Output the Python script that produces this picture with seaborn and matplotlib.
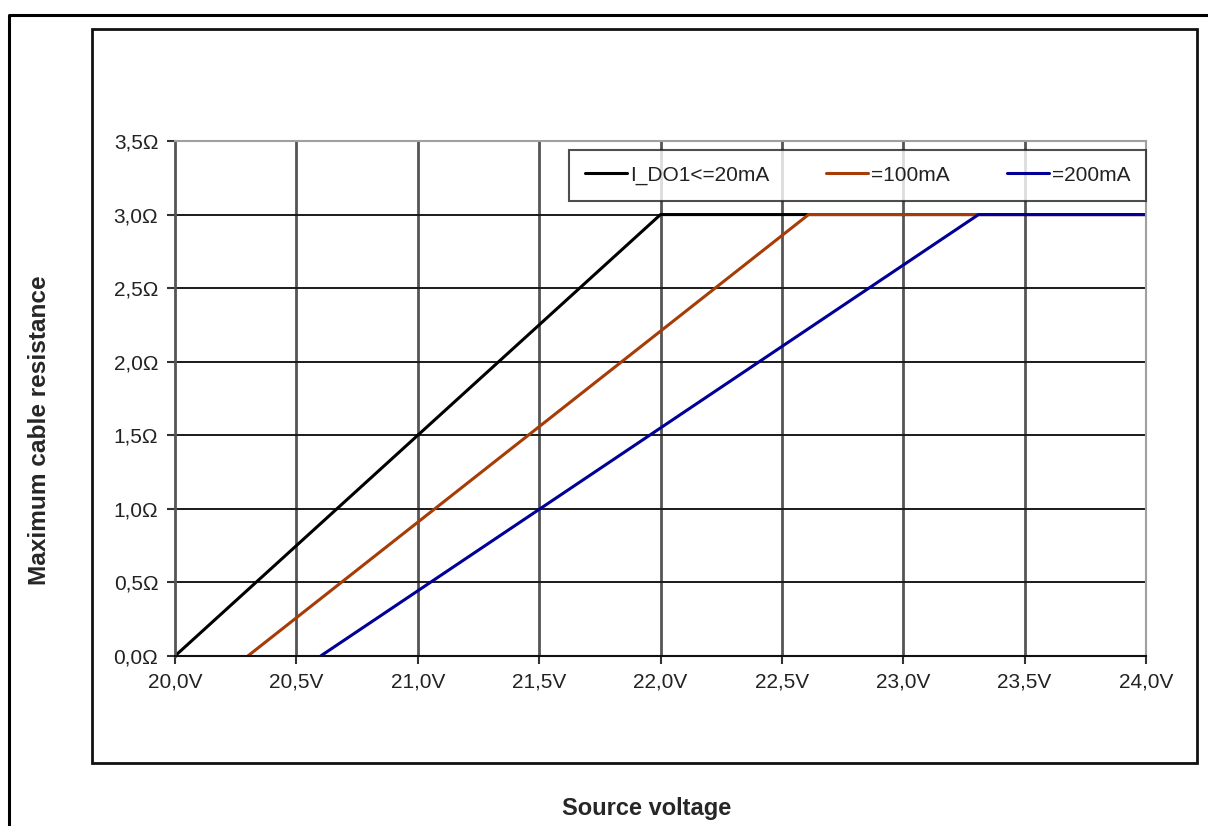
import pandas as pd
import matplotlib.pyplot as plt
import seaborn as sns
from matplotlib.lines import Line2D
from matplotlib.patches import Rectangle

# データ
series_names = ["I_DO1<=20mA", "=100mA", "=200mA"]
volt_20ma = [20.0, 22.0, 24.0]
res_20ma = [0.0, 3.0, 3.0]
volt_100ma = [20.3, 22.61, 24.0]
res_100ma = [0.0, 3.0, 3.0]
volt_200ma = [20.6, 23.31, 24.0]
res_200ma = [0.0, 3.0, 3.0]
x_ticks = [20.0, 20.5, 21.0, 21.5, 22.0, 22.5, 23.0, 23.5, 24.0]
y_ticks = [0.0, 0.5, 1.0, 1.5, 2.0, 2.5, 3.0, 3.5]

df = pd.concat([
    pd.DataFrame({"voltage": volt_20ma, "resistance": res_20ma, "series": series_names[0]}),
    pd.DataFrame({"voltage": volt_100ma, "resistance": res_100ma, "series": series_names[1]}),
    pd.DataFrame({"voltage": volt_200ma, "resistance": res_200ma, "series": series_names[2]}),
])
palette = {series_names[0]: "#000000", series_names[1]: "#a63c06", series_names[2]: "#000096"}

sns.set_style("white")
plt.rcParams["font.family"] = ["Liberation Sans", "DejaVu Sans"]

W, H = 1208, 826
fig = plt.figure(figsize=(W / 100, H / 100), dpi=100)

# 外枠
fig.add_artist(Line2D([9 / W, 9 / W, 1.0], [0.0, 1 - 15 / H, 1 - 15 / H],
                      transform=fig.transFigure, color="black", lw=2.2))
fig.add_artist(Rectangle((92 / W, 1 - 763 / H), (1197 - 92) / W, (763 - 29) / H,
                         transform=fig.transFigure, fill=False, edgecolor="#111111", lw=2.0))

ax = fig.add_axes([175 / W, 1 - 656 / H, (1146 - 175) / W, (656 - 141) / H])
sns.lineplot(data=df, x="voltage", y="resistance", hue="series", palette=palette,
             estimator=None, sort=False, lw=2.2, ax=ax, legend=True)

ax.set_xlim(20.0, 24.0)
ax.set_ylim(0.0, 3.5)
ax.set_xticks(x_ticks)
ax.set_yticks(y_ticks)
ax.set_xticklabels([f"{v:.1f}V".replace(".", ",") for v in x_ticks])
ax.set_yticklabels([f"{v:.1f}Ω".replace(".", ",") for v in y_ticks])
ax.tick_params(axis="both", labelsize=15, labelcolor="#222222", length=6, width=1.5,
               direction="out", color="#333333", pad=6)
ax.tick_params(axis="y", left=True)
ax.tick_params(axis="x", bottom=True)

# グリッド
for v in x_ticks[1:-1]:
    ax.axvline(v, color="#555555", lw=2.0, zorder=0)
for v in y_ticks[1:-1]:
    ax.axhline(v, color="#1a1a1a", lw=1.4, zorder=0)

ax.spines["left"].set_color("#555555")
ax.spines["left"].set_linewidth(2.0)
ax.spines["bottom"].set_color("#111111")
ax.spines["bottom"].set_linewidth(1.5)
ax.spines["top"].set_color("#a0a0a0")
ax.spines["top"].set_linewidth(1.5)
ax.spines["right"].set_color("#a0a0a0")
ax.spines["right"].set_linewidth(1.5)

ax.set_xlabel("")
ax.set_ylabel("")
fig.text(647 / W, 1 - 808 / H, "Source voltage", ha="center", va="center",
         fontsize=17, fontweight="bold")
fig.text(40 / W, 1 - 430 / H, "Maximum cable resistance", ha="center", va="center",
         rotation=90, fontsize=17.6, fontweight="bold")

handles, labels = ax.get_legend_handles_labels()
leg = ax.legend(handles, labels, ncol=3, loc="upper right", bbox_to_anchor=(1.0, 0.9825),
                borderaxespad=0.0, fontsize=15, frameon=True, fancybox=False,
                handlelength=2.0, handletextpad=0.15, columnspacing=2.75, borderpad=0.75)
leg.get_frame().set_edgecolor("#222222")
leg.get_frame().set_linewidth(1.5)
for t in leg.get_texts():
    t.set_color("#222222")

fig.savefig("out.png", dpi=100)
